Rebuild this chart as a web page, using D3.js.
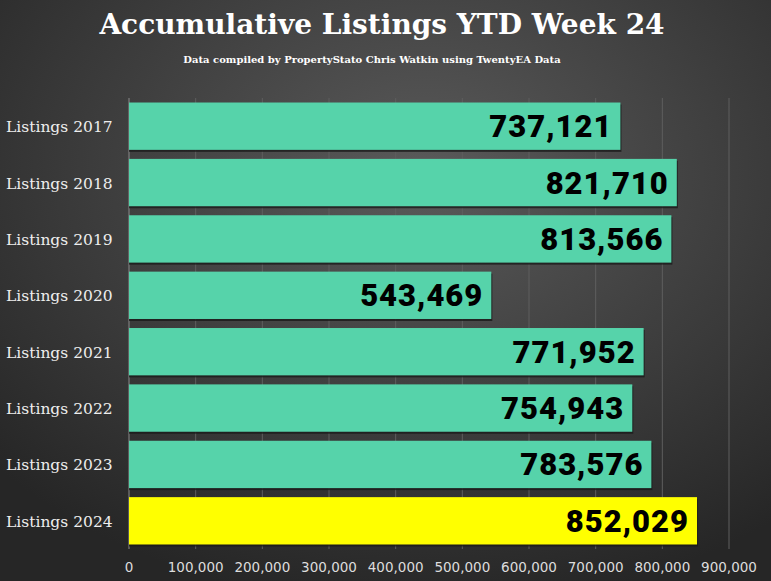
<!DOCTYPE html>
<html><head><meta charset="utf-8">
<script src="https://cdn.jsdelivr.net/npm/d3@7"></script>
<style>body{margin:0;background:#333;}svg{display:block;}</style>
</head><body>
<svg id="chart" width="771" height="581"></svg>
<script>
var categories = ['Listings 2017','Listings 2018','Listings 2019','Listings 2020','Listings 2021','Listings 2022','Listings 2023','Listings 2024'];
var values = [737121, 821710, 813566, 543469, 771952, 754943, 783576, 852029];
var ticks = [0,100000,200000,300000,400000,500000,600000,700000,800000,900000];

var svg = d3.select('#chart');
var defs = svg.append('defs');
var grad = defs.append('radialGradient').attr('id','bg').attr('cx','55%').attr('cy','30%').attr('r','75%');
grad.append('stop').attr('offset','0%').attr('stop-color','#5a5a5a');
grad.append('stop').attr('offset','100%').attr('stop-color','#262626');
svg.append('rect').attr('width',771).attr('height',581).attr('fill','url(#bg)');

var x = d3.scaleLinear().domain([0,900000]).range([129,729]);
var y = d3.scaleBand().domain(categories).range([98,549]).paddingInner(0.16).paddingOuter(0.08);

svg.selectAll('.grid').data(ticks.slice(1)).enter().append('line')
    .attr('x1', function(d){return x(d);}).attr('x2', function(d){return x(d);})
    .attr('y1',98).attr('y2',549).attr('stroke','#5e5e5e').attr('stroke-width',1);
svg.append('line').attr('x1',129).attr('x2',129).attr('y1',98).attr('y2',549).attr('stroke','#8a8a8a');

svg.append('text').attr('x',382).attr('y',34).attr('text-anchor','middle')
    .attr('font-family','DejaVu Serif').attr('font-weight','bold').attr('font-size',28).attr('fill','#fff')
    .text('Accumulative Listings YTD Week 24');
svg.append('text').attr('x',372).attr('y',63).attr('text-anchor','middle')
    .attr('font-family','DejaVu Serif').attr('font-weight','bold').attr('font-size',10).attr('fill','#fff')
    .text('Data compiled by PropertyStato Chris Watkin using TwentyEA Data');

var g = svg.selectAll('.bar').data(values).enter().append('g');
g.append('rect').attr('x',x(0)).attr('y',function(d,i){return y(categories[i])+2;})
    .attr('width',function(d){return x(d)-x(0)+1;}).attr('height',y.bandwidth())
    .attr('fill','#1a1a1a').attr('opacity',0.8);
g.append('rect').attr('x',x(0)).attr('y',function(d,i){return y(categories[i]);})
    .attr('width',function(d){return x(d)-x(0);}).attr('height',y.bandwidth())
    .attr('fill',function(d,i){return i===categories.length-1 ? '#ffff00' : '#56d3aa';});
g.append('text').attr('x',function(d){return x(d)-8;})
    .attr('y',function(d,i){return y(categories[i])+y.bandwidth()/2+11;})
    .attr('text-anchor','end').attr('font-family','Roboto').attr('font-weight','900')
    .attr('font-size',31).attr('letter-spacing',1).attr('fill','#000').text(function(d){return d3.format(',')(d);});

svg.selectAll('.cat').data(categories).enter().append('text')
    .attr('x',6).attr('y',function(d){return y(d)+y.bandwidth()/2+6;})
    .attr('font-family','DejaVu Serif').attr('font-size',15.5).attr('fill','#eee')
    .text(function(d){return d;});

svg.selectAll('.tick').data(ticks).enter().append('text')
    .attr('x',function(d){return x(d);}).attr('y',572).attr('text-anchor','middle')
    .attr('font-family','DejaVu Sans').attr('font-size',13.5).attr('fill','#ddd')
    .text(function(d){return d3.format(',')(d);});
</script>
</body></html>
